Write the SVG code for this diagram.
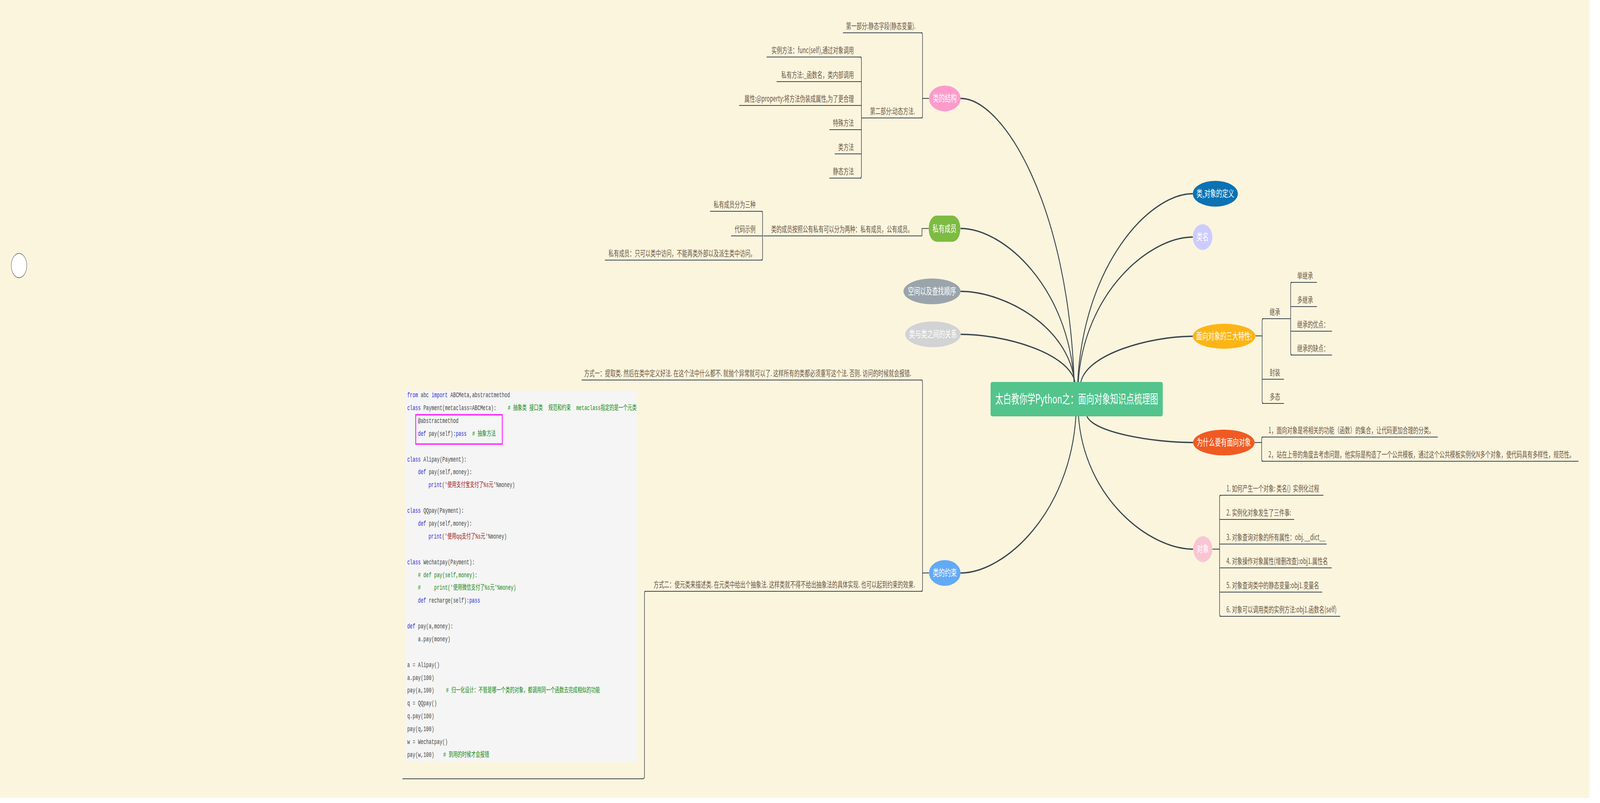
<svg xmlns="http://www.w3.org/2000/svg" width="6393" height="2056" viewBox="0 0 6393 2056" preserveAspectRatio="none" style="width:100vw;height:100vh;display:block">
<style>
.t{font-family:"Noto Sans CJK SC","Noto Sans",sans-serif;font-size:21px;fill:#6b5847;white-space:pre}
.e{text-anchor:end}
.n{font-family:"Noto Sans CJK SC","Noto Sans",sans-serif;font-size:24px;fill:#ffffff;text-anchor:middle}
.c{stroke:#3c464f;stroke-width:3.5;fill:none}
.l{stroke:#3c464f;stroke-width:2.2;fill:none}
.code{font-family:"Liberation Mono","Noto Sans CJK SC",monospace;font-size:18px;fill:#454545;white-space:pre}
.k{fill:#2c2cd8}
.s{fill:#a31515}
.g{fill:#168a16}
</style>
<rect x="0" y="0" width="6393" height="2056" fill="#ffffff"/>
<rect x="0" y="0" width="6352" height="2043" fill="#fbf5de"/>

<g id="connectors">
  <path class="c" d="M4292,980 C4269,529 4011,252 3838,252"/>
  <path class="c" d="M4292,980 C4269,735 4011,585 3838,585"/>
  <path class="c" d="M4294,980 C4271,835 4011,746 3838,746"/>
  <path class="c" d="M4296,980 C4273,903 4012,856 3838,856"/>
  <path class="c" d="M4306,980 C4329,680 4591,496 4766,496"/>
  <path class="c" d="M4308,980 C4331,749 4592,607 4766,607"/>
  <path class="c" d="M4318,980 C4340,906 4596,861 4766,861"/>
  <path class="c" d="M4299,1064 C4276,1314 4013,1467 3838,1467"/>
  <path class="c" d="M4309,1064 C4332,1276 4593,1406 4767,1406"/>
  <path class="c" d="M4342,1064 C4363,1107 4606,1133 4767,1133"/>
  <path class="l" d="M3712,252 L3686,252"/>
  <path class="l" d="M3680,84 Q3686,84 3686,90 L3686,296 Q3686,302 3680,302"/>
  <path class="l" d="M3436,146 Q3442,146 3442,152 L3442,450 Q3442,456 3436,456"/>
  <path class="l" d="M3711,585 L3684,585 L3684,604"/>
  <path class="l" d="M3041,541 Q3047,541 3047,547 L3047,660 Q3047,666 3041,666"/>
  <path class="l" d="M3712,1467 L3686,1467"/>
  <path class="l" d="M3680,973 Q3686,973 3686,979 L3686,1508 Q3686,1514 3680,1514"/>
  <path class="l" d="M2581,1514 Q2575,1514 2575,1520 L2575,1988 Q2575,1994 2569,1994"/>
  <path class="l" d="M5016,860 L5043,860"/>
  <path class="l" d="M5049,816 Q5043,816 5043,822 L5043,1027 Q5043,1033 5049,1033"/>
  <path class="l" d="M5163,723 Q5157,723 5157,729 L5157,903 Q5157,909 5163,909"/>
  <path class="l" d="M5012,1133 L5041,1133"/>
  <path class="l" d="M5047,1119 Q5041,1119 5041,1125 L5041,1175 Q5041,1181 5047,1181"/>
  <path class="l" d="M4844,1406 L4873,1406"/>
  <path class="l" d="M4879,1268 Q4873,1268 4873,1274 L4873,1572 Q4873,1578 4879,1578"/>
</g>

<g id="root">
  <rect x="3958" y="978" width="688" height="88" rx="6" fill="#52c48c"/>
  <text class="n" x="4302" y="1033" style="font-size:32px">太白教你学Python之：面向对象知识点梳理图</text>
</g>

<g id="n-struct">
  <ellipse cx="3775" cy="252" rx="63" ry="33" fill="#fd9bcb"/>
  <text class="n" x="3775" y="260">类的结构</text>
</g>
<g id="n-struct-1">
  <line class="l" x1="3368" y1="84" x2="3686" y2="84"/>
  <text class="t e" x="3658" y="74">第一部分:静态字段(静态变量).</text>
</g>
<g id="n-struct-2">
  <line class="l" x1="3442" y1="302" x2="3686" y2="302"/>
  <text class="t e" x="3656" y="292">第二部分:动态方法.</text>
</g>
<g id="n-struct-2-1">
  <line class="l" x1="3063" y1="146" x2="3442" y2="146"/>
  <text class="t e" x="3412" y="136">实例方法：func(self),通过对象调用</text>
</g>
<g id="n-struct-2-2">
  <line class="l" x1="3103" y1="209" x2="3442" y2="209"/>
  <text class="t e" x="3412" y="199">私有方法:_函数名，类内部调用</text>
</g>
<g id="n-struct-2-3">
  <line class="l" x1="2953" y1="270" x2="3442" y2="270"/>
  <text class="t e" x="3412" y="260">属性:@property:将方法伪装成属性,为了更合理</text>
</g>
<g id="n-struct-2-4">
  <line class="l" x1="3314" y1="332" x2="3442" y2="332"/>
  <text class="t e" x="3412" y="322">特殊方法</text>
</g>
<g id="n-struct-2-5">
  <line class="l" x1="3335" y1="394" x2="3442" y2="394"/>
  <text class="t e" x="3412" y="384">类方法</text>
</g>
<g id="n-struct-2-6">
  <line class="l" x1="3314" y1="456" x2="3442" y2="456"/>
  <text class="t e" x="3412" y="446">静态方法</text>
</g>

<g id="n-private">
  <rect x="3711" y="552" width="126" height="67" rx="32" ry="32" fill="#7dbb42"/>
  <text class="n" x="3774" y="594">私有成员</text>
</g>
<g id="n-private-1">
  <line class="l" x1="3050" y1="604" x2="3684" y2="604"/>
  <text class="t e" x="3648" y="594">类的成员按照公有私有可以分为两种：私有成员，公有成员。</text>
</g>
<g id="n-private-1-1">
  <line class="l" x1="2837" y1="541" x2="3047" y2="541"/>
  <text class="t e" x="3019" y="531">私有成员分为三种</text>
</g>
<g id="n-private-1-2">
  <line class="l" x1="2921" y1="604" x2="3047" y2="604"/>
  <text class="t e" x="3019" y="594">代码示例</text>
</g>
<g id="n-private-1-3">
  <line class="l" x1="2417" y1="666" x2="3047" y2="666"/>
  <text class="t e" x="3019" y="656">私有成员：只可以类中访问，不能再类外部以及派生类中访问。</text>
</g>

<g id="n-space">
  <ellipse cx="3724" cy="746" rx="114" ry="33" fill="#9aa4ab"/>
  <text class="n" x="3724" y="754">空间以及查找顺序</text>
</g>
<g id="n-rel">
  <ellipse cx="3728" cy="856" rx="111" ry="33" fill="#d1d3d4"/>
  <text class="n" x="3728" y="864">类与类之间的关系</text>
</g>

<g id="n-constraint">
  <ellipse cx="3775" cy="1467" rx="63" ry="33" fill="#62aaf7"/>
  <text class="n" x="3775" y="1475">类的约束</text>
</g>
<g id="n-constraint-1">
  <line class="l" x1="2324" y1="973" x2="3686" y2="973"/>
  <text class="t e" x="3641" y="963">方式一：提取类. 然后在类中定义好法. 在这个法中什么都不. 就抛个异常就可以了. 这样所有的类都必须重写这个法. 否则. 访问的时候就会报错.</text>
</g>
<g id="n-constraint-2">
  <line class="l" x1="2575" y1="1514" x2="3686" y2="1514"/>
  <text class="t e" x="3656" y="1504">方式二：使元类来描述类. 在元类中给出个抽象法. 这样类就不得不给出抽象法的具体实现. 也可以起到约束的效果.</text>
</g>
<g id="n-constraint-2-code">
  <line class="l" x1="1608" y1="1994" x2="2569" y2="1994"/>
  <rect x="1622" y="1000" width="922" height="951" fill="#f5f5f5"/>
  <rect x="1661" y="1062" width="346" height="75" fill="none" stroke="#ff22ff" stroke-width="3.5"/>
  <g class="code">
<text xml:space="preserve" x="1627" y="1017"><tspan class="k">from</tspan> abc <tspan class="k">import</tspan> ABCMeta,abstractmethod</text>
<text xml:space="preserve" x="1627" y="1050"><tspan class="k">class</tspan> Payment(metaclass=ABCMeta):<tspan class="g" x="2029"># 抽象类 接口类  规范和约束  metaclass指定的是一个元类</tspan></text>
<text xml:space="preserve" x="1670" y="1083">@abstractmethod</text>
<text xml:space="preserve" x="1670" y="1116"><tspan class="k">def</tspan> pay(self):<tspan class="k">pass</tspan><tspan class="g" x="1887"># 抽象方法</tspan></text>
<text xml:space="preserve" x="1627" y="1182"><tspan class="k">class</tspan> Alipay(Payment):</text>
<text xml:space="preserve" x="1670" y="1214"><tspan class="k">def</tspan> pay(self,money):</text>
<text xml:space="preserve" x="1712" y="1247"><tspan class="k">print</tspan>(<tspan class="s">'使用支付宝支付了%s元'</tspan>%money)</text>
<text xml:space="preserve" x="1627" y="1313"><tspan class="k">class</tspan> QQpay(Payment):</text>
<text xml:space="preserve" x="1670" y="1346"><tspan class="k">def</tspan> pay(self,money):</text>
<text xml:space="preserve" x="1712" y="1379"><tspan class="k">print</tspan>(<tspan class="s">'使用qq支付了%s元'</tspan>%money)</text>
<text xml:space="preserve" x="1627" y="1445"><tspan class="k">class</tspan> Wechatpay(Payment):</text>
<text xml:space="preserve" x="1670" y="1478" class="g"># def pay(self,money):</text>
<text xml:space="preserve" x="1670" y="1510" class="g">#     print('使用微信支付了%s元'%money)</text>
<text xml:space="preserve" x="1670" y="1543"><tspan class="k">def</tspan> recharge(self):<tspan class="k">pass</tspan></text>
<text xml:space="preserve" x="1627" y="1609"><tspan class="k">def</tspan> pay(a,money):</text>
<text xml:space="preserve" x="1670" y="1642">a.pay(money)</text>
<text xml:space="preserve" x="1627" y="1708">a = Alipay()</text>
<text xml:space="preserve" x="1627" y="1741">a.pay(100)</text>
<text xml:space="preserve" x="1627" y="1773">pay(a,100)<tspan class="g" x="1782"># 归一化设计：不管是哪一个类的对象，都调用同一个函数去完成相似的功能</tspan></text>
<text xml:space="preserve" x="1627" y="1806">q = QQpay()</text>
<text xml:space="preserve" x="1627" y="1839">q.pay(100)</text>
<text xml:space="preserve" x="1627" y="1872">pay(q,100)</text>
<text xml:space="preserve" x="1627" y="1905">w = Wechatpay()</text>
<text xml:space="preserve" x="1627" y="1938">pay(w,100)<tspan class="g" x="1771"># 到用的时候才会报错</tspan></text>
  </g>
</g>

<g id="n-def">
  <ellipse cx="4856" cy="496" rx="90" ry="33" fill="#0b72b3"/>
  <text class="n" x="4856" y="504">类,对象的定义</text>
</g>
<g id="n-name">
  <ellipse cx="4805" cy="607" rx="39" ry="33" fill="#ccccff"/>
  <text class="n" x="4805" y="615">类名</text>
</g>

<g id="n-three">
  <ellipse cx="4891" cy="861" rx="125" ry="32" fill="#fdb515"/>
  <text class="n" x="4891" y="869">面向对象的三大特性:</text>
</g>
<g id="n-three-1">
  <line class="l" x1="5043" y1="816" x2="5157" y2="816"/>
  <text class="t" x="5073" y="806">继承</text>
</g>
<g id="n-three-1-1">
  <line class="l" x1="5157" y1="723" x2="5262" y2="723"/>
  <text class="t" x="5183" y="713">单继承</text>
</g>
<g id="n-three-1-2">
  <line class="l" x1="5157" y1="785" x2="5262" y2="785"/>
  <text class="t" x="5183" y="775">多继承</text>
</g>
<g id="n-three-1-3">
  <line class="l" x1="5157" y1="848" x2="5322" y2="848"/>
  <text class="t" x="5183" y="838">继承的优点：</text>
</g>
<g id="n-three-1-4">
  <line class="l" x1="5157" y1="909" x2="5322" y2="909"/>
  <text class="t" x="5183" y="899">继承的缺点：</text>
</g>
<g id="n-three-2">
  <line class="l" x1="5043" y1="971" x2="5130" y2="971"/>
  <text class="t" x="5073" y="961">封装</text>
</g>
<g id="n-three-3">
  <line class="l" x1="5043" y1="1033" x2="5130" y2="1033"/>
  <text class="t" x="5073" y="1023">多态</text>
</g>

<g id="n-why">
  <ellipse cx="4890" cy="1133" rx="123" ry="33" fill="#f15a22"/>
  <text class="n" x="4890" y="1141">为什么要有面向对象</text>
</g>
<g id="n-why-1">
  <line class="l" x1="5041" y1="1119" x2="5745" y2="1119"/>
  <text class="t" x="5068" y="1109">1，面向对象是将相关的功能（函数）的集合，让代码更加合理的分类。</text>
</g>
<g id="n-why-2">
  <line class="l" x1="5041" y1="1181" x2="6307" y2="1181"/>
  <text class="t" x="5068" y="1171">2，站在上帝的角度去考虑问题，他实际是构造了一个公共模板，通过这个公共模板实例化N多个对象，使代码具有多样性，规范性。</text>
</g>

<g id="n-obj">
  <ellipse cx="4806" cy="1406" rx="38" ry="33" fill="#f9c5d3"/>
  <text class="n" x="4806" y="1414">对象</text>
</g>
<g id="n-obj-1">
  <line class="l" x1="4873" y1="1268" x2="5288" y2="1268"/>
  <text class="t" xml:space="preserve" x="4900" y="1258">1. 如何产生一个对象: 类名()  实例化过程</text>
</g>
<g id="n-obj-2">
  <line class="l" x1="4873" y1="1330" x2="5171" y2="1330"/>
  <text class="t" x="4900" y="1320">2. 实例化对象发生了三件事:</text>
</g>
<g id="n-obj-3">
  <line class="l" x1="4873" y1="1393" x2="5301" y2="1393"/>
  <text class="t" x="4900" y="1383">3. 对象查询对象的所有属性：obj.__dict__</text>
</g>
<g id="n-obj-4">
  <line class="l" x1="4873" y1="1454" x2="5321" y2="1454"/>
  <text class="t" x="4900" y="1444">4. 对象操作对象属性(增删改查):obj1.属性名</text>
</g>
<g id="n-obj-5">
  <line class="l" x1="4873" y1="1516" x2="5283" y2="1516"/>
  <text class="t" x="4900" y="1506">5. 对象查询类中的静态变量:obj1.变量名</text>
</g>
<g id="n-obj-6">
  <line class="l" x1="4873" y1="1578" x2="5355" y2="1578"/>
  <text class="t" x="4900" y="1568">6. 对象可以调用类的实例方法:obj1.函数名(self)</text>
</g>

<g id="n-float">
  <circle cx="76" cy="680" r="31" fill="#ffffff" stroke="#555b60" stroke-width="1.5"/>
</g>
</svg>
